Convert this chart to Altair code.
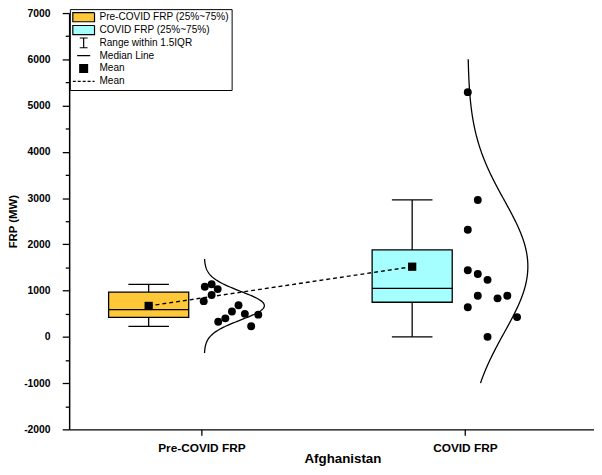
import altair as alt
import numpy as np
import pandas as pd

# ---------------- data ----------------
categories = ["Pre-COVID FRP", "COVID FRP"]
cat_index = [1, 2]

q1 = [421, 748]
median = [591, 1047]
q3 = [968, 1880]
whisker_lo = [228, 0]
whisker_hi = [1136, 2960]
mean_val = [669, 1517]

pre_values = [1082, 1136, 1033, 905, 772, 684, 548, 498, 400, 327, 480, 228]
pre_jitter = [0.013, 0.039, 0.062, 0.039, 0.009, 0.141, 0.116, 0.165, 0.091, 0.064, 0.216, 0.189]
covid_values = [5290, 2960, 2315, 1440, 1360, 1233, 890, 833, 890, 641, 427, 0]
covid_jitter = [0.011, 0.049, 0.011, 0.011, 0.049, 0.086, 0.049, 0.124, 0.161, 0.011, 0.198, 0.086]

curve_lo = [-349, -1000]
curve_hi = [1682, 6000]

legend_labels = ["Pre-COVID FRP (25%~75%)", "COVID FRP (25%~75%)", "Range within 1.5IQR",
                 "Median Line", "Mean", "Mean "]

ORANGE = "#FFC839"
CYAN = "#A6FFFF"
FONT = "Liberation Sans"

# ---------------- tables ----------------
box_df = pd.DataFrame({"cat": categories, "idx": cat_index, "q1": q1, "med": median, "q3": q3,
                       "lo": whisker_lo, "hi": whisker_hi, "mean": mean_val})
pts_df = pd.DataFrame({
    "idx": [1] * len(pre_values) + [2] * len(covid_values),
    "v": pre_values + covid_values,
    "jit": pre_jitter + covid_jitter,
})
groups = [pre_values, covid_values]
fit_mean = [float(np.mean(g)) for g in groups]
fit_sd = [float(np.std(g, ddof=1)) for g in groups]
leg_df = pd.DataFrame({"leg": legend_labels})

# ---------------- scales / axes ----------------
xs = alt.Scale(domain=[0.4983, 2.490], nice=False, zero=False)
ys = alt.Scale(domain=[-2000, 7000], nice=False, zero=False)

label_expr_x = "datum.value == 1 ? '%s' : '%s'" % (categories[0], categories[1])
xaxis = alt.Axis(values=cat_index, labelExpr=label_expr_x, title="Afghanistan", grid=False,
                 tickSize=6, tickWidth=1.3, tickColor="black", domainColor="black", domainWidth=1.5,
                 labelFont=FONT, labelFontSize=12, labelFontWeight="bold", labelColor="black",
                 labelPadding=7, labelOverlap=False,
                 titleFont=FONT, titleFontSize=13.5, titleFontWeight="bold", titleColor="black",
                 titleX=277, titleY=33.5, titleBaseline="alphabetic", titleAlign="center")
yaxis = alt.Axis(values=list(range(-2000, 7001, 500)),
                 labelExpr="datum.value % 1000 == 0 ? toString(datum.value) : ''",
                 tickSize={"condition": {"test": "datum.value % 1000 == 0", "value": 7}, "value": 4},
                 title="FRP (MW)", grid=False, tickWidth=1.3, tickColor="black",
                 domainColor="black", domainWidth=1.5,
                 labelFont=FONT, labelFontSize=10.5, labelFontWeight="bold", labelColor="black",
                 labelPadding=12.3, labelOverlap=False,
                 titleFont=FONT, titleFontSize=11.5, titleFontWeight="bold", titleColor="black",
                 titleX=-56.5, titleY=211, titleAngle=270, titleAlign="center", titleBaseline="middle")


def X(field):
    return alt.X(field, scale=xs, axis=xaxis)


def Y(field):
    return alt.Y(field, scale=ys, axis=yaxis)


base_box = alt.Chart(box_df).transform_calculate(
    xc="datum.idx - 0.2", xl="datum.idx - 0.352", xr="datum.idx - 0.048",
    cl="datum.idx - 0.277", cr="datum.idx - 0.123")

whisker = base_box.mark_rule(color="black", strokeWidth=1.3).encode(
    x=X("xc:Q"), y=Y("lo:Q"), y2="hi:Q")

cap_lo = base_box.mark_rule(color="black", strokeWidth=1.3).encode(
    x=X("cl:Q"), x2="cr:Q", y=Y("lo:Q"))
cap_hi = base_box.mark_rule(color="black", strokeWidth=1.3).encode(
    x=X("cl:Q"), x2="cr:Q", y=Y("hi:Q"))

box = base_box.mark_rect(stroke="black", strokeWidth=1.3, opacity=1).encode(
    x=X("xl:Q"), x2="xr:Q", y=Y("q1:Q"), y2="q3:Q",
    color=alt.Color("cat:N", scale=alt.Scale(domain=categories, range=[ORANGE, CYAN]), legend=None))

med = base_box.mark_rule(color="black", strokeWidth=1.3).encode(
    x=X("xl:Q"), x2="xr:Q", y=Y("med:Q"))

mean_line = base_box.mark_line(color="black", strokeDash=[4, 3], strokeWidth=1.4).encode(
    x=X("xc:Q"), y=Y("mean:Q"))

mean_sq = base_box.mark_point(shape="square", filled=True, color="black", size=70, opacity=1).encode(
    x=X("xc:Q"), y=Y("mean:Q"))

points = alt.Chart(pts_df).transform_calculate(px="datum.idx + datum.jit").mark_circle(
    color="black", size=64, opacity=1).encode(x=X("px:Q"), y=Y("v:Q"))

curves = []
for i in range(2):
    lo, hi, m, s, c = curve_lo[i], curve_hi[i], fit_mean[i], fit_sd[i], cat_index[i]
    curves.append(
        alt.Chart(alt.sequence(0, 1.0001, 0.005, as_="p")).transform_calculate(
            t=f"{lo} + datum.p * ({hi} - ({lo}))"
        ).transform_calculate(
            cx=f"{c} + 0.011 + 0.228 * exp(-0.5 * pow((datum.t - {m}) / {s}, 2))"
        ).mark_line(color="black", strokeWidth=1.3).encode(
            x=X("cx:Q"), y=Y("t:Q"), order=alt.Order("p:Q"))
    )

sw = "M-1,-0.42H1V0.42H-1Z"
legend_shapes = [sw, sw,
                 "M-0.36,-0.45H0.36M0,-0.45V0.45M-0.36,0.45H0.36",
                 "M-0.6,0H0.6",
                 "M-0.36,-0.36H0.36V0.36H-0.36Z",
                 "M-1,0H1"]
legend_fills = [ORANGE, CYAN, "transparent", "transparent", "black", "transparent"]
legend_dashes = [[1, 0], [1, 0], [1, 0], [1, 0], [1, 0], [3, 2]]

legend_layer = alt.Chart(leg_df).transform_filter("false").mark_point(
    filled=True, opacity=1, stroke="black", strokeWidth=1.2).encode(
    fill=alt.Fill("leg:N", scale=alt.Scale(domain=legend_labels, range=legend_fills),
                  legend=alt.Legend(title=None, orient="none", legendX=0.7, legendY=-4,
                                    strokeColor="black", fillColor="white", padding=2,
                                    labelFont=FONT, labelFontSize=10.2, labelColor="black",
                                    labelOffset=4, rowPadding=0, clipHeight=12.4,
                                    symbolSize=484, symbolStrokeColor="black",
                                    symbolStrokeWidth=1.2, labelLimit=0)),
    shape=alt.Shape("leg:N", scale=alt.Scale(domain=legend_labels, range=legend_shapes)),
    strokeDash=alt.StrokeDash("leg:N", scale=alt.Scale(domain=legend_labels, range=legend_dashes)),
)

chart = alt.layer(
    whisker, box, med, cap_lo, cap_hi, *curves, points, mean_line, mean_sq, legend_layer
).properties(
    width=532, height=422,
    autosize=alt.AutoSizeParams(type="none"),
    padding={"left": 62, "top": 2, "right": 0, "bottom": 35},
    background="white",
).configure_view(stroke=None)

chart.save("out.html", embed_options={"renderer": "svg", "actions": False})
